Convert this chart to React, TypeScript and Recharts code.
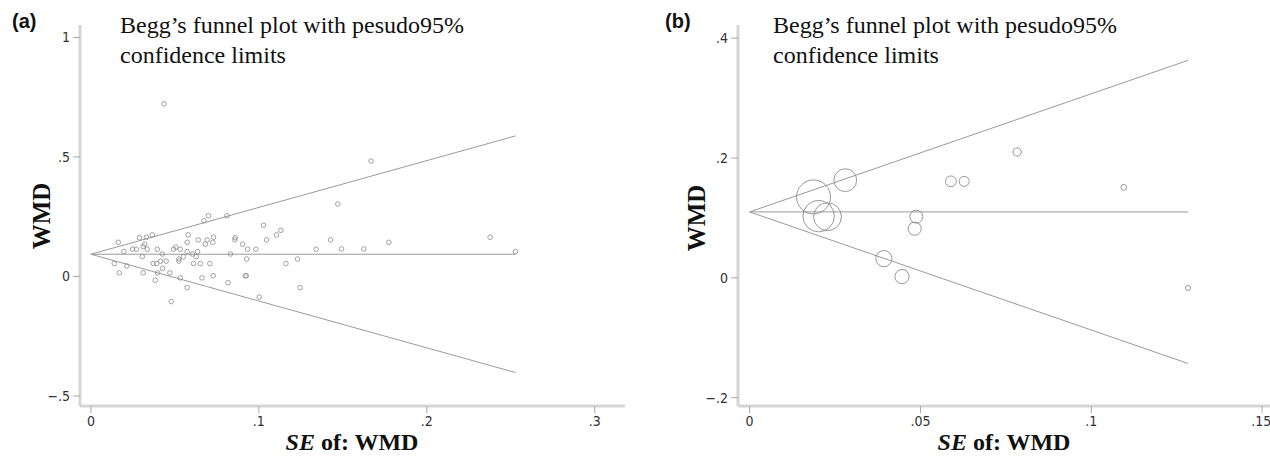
import React from "react";
import {
  ScatterChart,
  Scatter,
  XAxis,
  YAxis,
  ZAxis,
  ReferenceLine,
} from "recharts";

// panel (a): standard error and WMD of each study
const seA = [
  0.0163, 0.0139, 0.0169, 0.0196, 0.0214, 0.0248, 0.027, 0.029, 0.0306, 0.0311,
  0.032, 0.0331, 0.0335, 0.0311, 0.0365, 0.0371, 0.0383, 0.0391, 0.0395, 0.0397,
  0.0415, 0.0425, 0.0427, 0.0448, 0.047, 0.0478, 0.0492, 0.0506, 0.0524, 0.0524,
  0.0532, 0.0532, 0.055, 0.0573, 0.0573, 0.0579, 0.0573, 0.0605, 0.0611, 0.0627,
  0.0635, 0.0639, 0.0651, 0.0661, 0.0673, 0.0681, 0.0692, 0.07, 0.0708, 0.0726,
  0.073, 0.0728, 0.081, 0.0817, 0.0831, 0.0857, 0.0859, 0.0903, 0.0919, 0.0925,
  0.0927, 0.0933, 0.0982, 0.1002, 0.1028, 0.1046, 0.1105, 0.1131, 0.1161, 0.123,
  0.1246, 0.1341, 0.1427, 0.147, 0.1492, 0.1625, 0.1668, 0.1774, 0.2377, 0.2528,
  0.0436,
];
const wmdA = [
  0.143, 0.054, 0.015, 0.104, 0.044, 0.114, 0.114, 0.162, 0.083, 0.125,
  0.135, 0.164, 0.114, 0.015, 0.174, 0.054, -0.016, 0.054, 0.114, 0.015,
  0.064, 0.094, 0.034, 0.064, 0.015, -0.105, 0.114, 0.123, 0.064, 0.073,
  0.114, -0.006, 0.083, 0.104, 0.143, 0.174, -0.047, 0.094, 0.054, 0.083,
  0.104, 0.153, 0.054, -0.006, 0.233, 0.135, 0.153, 0.254, 0.054, 0.143,
  0.164, 0.003, 0.254, -0.026, 0.094, 0.153, 0.162, 0.135, 0.003, 0.003,
  0.073, 0.114, 0.114, -0.086, 0.214, 0.153, 0.174, 0.193, 0.054, 0.073,
  -0.047, 0.114, 0.153, 0.303, 0.115, 0.115, 0.483, 0.143, 0.164, 0.104,
  0.722,
];

// panel (b): studies with their weights (marker area)
const seB = [0.0187, 0.0202, 0.0228, 0.028, 0.0393, 0.0446, 0.0488, 0.0483, 0.0589, 0.0628, 0.0783, 0.1095, 0.1283];
const wmdB = [0.135, 0.103, 0.102, 0.163, 0.032, 0.002, 0.102, 0.082, 0.161, 0.161, 0.21, 0.151, -0.017];
const weightB = [2860, 2450, 1920, 1280, 650, 500, 420, 430, 290, 250, 160, 83, 61];

// pseudo 95% limits: [se at apex, se at end], [centre, upper, lower] at end
const funnelSeA = [0, 0.2528];
const funnelA = { centre: 0.093, upper: 0.588, lower: -0.402 };
const funnelSeB = [0, 0.1283];
const funnelB = { centre: 0.11, upper: 0.363, lower: -0.143 };

const xTicksA = [0, 0.1, 0.2, 0.3];
const yTicksA = [-0.5, 0, 0.5, 1];
const xTicksB = [0, 0.05, 0.1, 0.15];
const yTicksB = [-0.2, 0, 0.2, 0.4];

const dataA = seA.map((s, i) => ({ se: s, wmd: wmdA[i] }));
const dataB = seB.map((s, i) => ({ se: s, wmd: wmdB[i], w: weightB[i] }));

const stataFmt = (v: number) => {
  if (v === 0) return "0";
  const s = String(Math.abs(v)).replace(/^0/, "");
  return (v < 0 ? "\u2212" : "") + s;
};

const tickFont = "'Liberation Sans Narrow', 'DejaVu Sans Condensed', 'Roboto Condensed', 'Liberation Sans', sans-serif";
const serif = "'Liberation Serif', 'Times New Roman', serif";
const axisLine = { stroke: "#d6d6d6", strokeWidth: 3 };
const tickLine = { stroke: "#aaaaaa" };
const tickStyle = { fontSize: 14, fill: "#333", fontFamily: tickFont };
const lineColor = "#9a9a9a";
const markColor = "#8c8c8c";

const smallCircle = (props: any) => (
  <circle cx={props.cx} cy={props.cy} r={2.3} fill="none" stroke={markColor} strokeWidth={0.8} />
);

const FunnelLines = (se: number[], f: { centre: number; upper: number; lower: number }) =>
  [f.upper, f.centre, f.lower].map((end, i) => (
    <ReferenceLine
      key={`fl-${i}`}
      segment={[
        { x: se[0], y: f.centre },
        { x: se[1], y: end },
      ]}
      stroke={lineColor}
      strokeWidth={1}
    />
  ));

const Labels = ({ x0, label, plotMid, wmdX, wmdY }: any) => (
  <g>
    <text x={x0} y={28} fontFamily="'Liberation Sans', Arial, sans-serif" fontWeight="bold" fontSize={20} fill="#111">
      {label}
    </text>
    <text x={x0 + 108} y={33} fontFamily={serif} fontSize={24} fill="#111">
      Begg’s funnel plot with pesudo95%
    </text>
    <text x={x0 + 108} y={63} fontFamily={serif} fontSize={24} fill="#111">
      confidence limits
    </text>
    <text
      x={wmdX}
      y={wmdY}
      transform={`rotate(-90 ${wmdX} ${wmdY})`}
      textAnchor="middle"
      fontFamily={serif}
      fontWeight="bold"
      fontSize={25}
      fill="#111"
    >
      WMD
    </text>
    <text x={plotMid} y={450} textAnchor="middle" fontFamily={serif} fontWeight="bold" fontSize={24} fill="#111">
      <tspan fontStyle="italic">SE</tspan> of: WMD
    </text>
  </g>
);

const App = () => {
  return (
    <div style={{ position: "absolute", left: 0, top: 0, width: 1270, height: 456, background: "#fff" }}>
      <div style={{ position: "absolute", left: 0, top: 0 }}>
        <ScatterChart width={640} height={456} margin={{ top: 25, right: 15, bottom: 0, left: 0 }}>
          <XAxis
            type="number"
            dataKey="se"
            domain={[-0.0065, 0.318]}
            allowDataOverflow
            ticks={xTicksA}
            tickFormatter={stataFmt}
            axisLine={axisLine}
            tickLine={tickLine}
            tickSize={7}
            tickMargin={3}
            tick={tickStyle}
            height={50}
          />
          <YAxis
            type="number"
            dataKey="wmd"
            domain={[-0.542, 1.052]}
            allowDataOverflow
            ticks={yTicksA}
            tickFormatter={stataFmt}
            axisLine={axisLine}
            tickLine={tickLine}
            tickSize={7}
            tickMargin={3}
            tick={tickStyle}
            width={80}
          />
          {FunnelLines(funnelSeA, funnelA)}
          <Scatter data={dataA} shape={smallCircle} isAnimationActive={false} />
        </ScatterChart>
      </div>
      <div style={{ position: "absolute", left: 630, top: 0 }}>
        <ScatterChart width={640} height={456} margin={{ top: 25, right: 0, bottom: 0, left: 0 }}>
          <XAxis
            type="number"
            dataKey="se"
            domain={[-0.0034, 0.1523]}
            allowDataOverflow
            ticks={xTicksB}
            tickFormatter={stataFmt}
            axisLine={axisLine}
            tickLine={tickLine}
            tickSize={7}
            tickMargin={3}
            tick={tickStyle}
            height={50}
          />
          <YAxis
            type="number"
            dataKey="wmd"
            domain={[-0.214, 0.422]}
            allowDataOverflow
            ticks={yTicksB}
            tickFormatter={stataFmt}
            axisLine={axisLine}
            tickLine={tickLine}
            tickSize={7}
            tickMargin={3}
            tick={tickStyle}
            width={108}
          />
          <ZAxis type="number" dataKey="w" domain={[0, 2860]} range={[0, 908]} />
          {FunnelLines(funnelSeB, funnelB)}
          <Scatter
            data={dataB}
            shape="circle"
            fill="none"
            stroke={markColor}
            strokeWidth={0.9}
            isAnimationActive={false}
          />
        </ScatterChart>
      </div>
      <svg width={1270} height={456} style={{ position: "absolute", left: 0, top: 0, pointerEvents: "none" }}>
        <Labels x0={12} label="(a)" plotMid={352} wmdX={50} wmdY={216} />
        <Labels x0={665} label="(b)" plotMid={1004} wmdX={705} wmdY={218} />
      </svg>
    </div>
  );
};

export default App;
